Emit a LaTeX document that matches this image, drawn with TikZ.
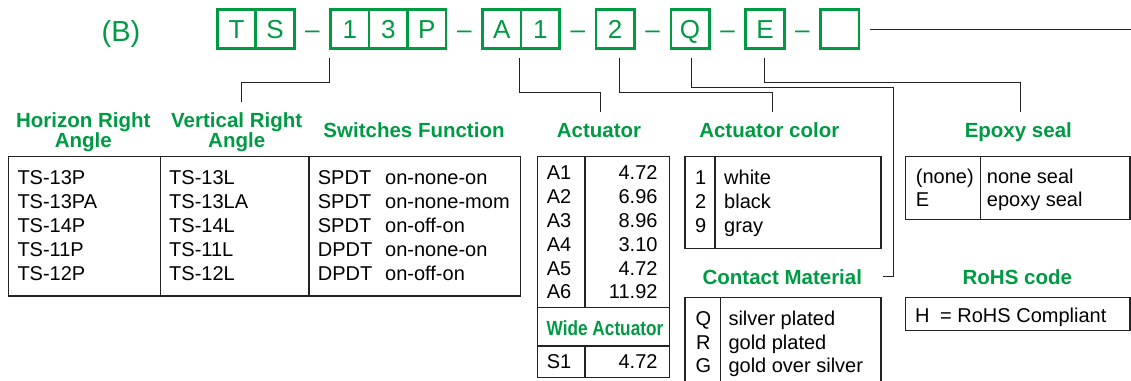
\documentclass[tikz,border=0pt]{standalone}
\usepackage{fontspec}
\usepackage{graphicx}
\setmainfont{Liberation Sans}
\usetikzlibrary{positioning}
\definecolor{CodeGreen}{RGB}{0, 154, 68}
\definecolor{LineGray}{RGB}{35, 35, 35}

\begin{document}
\begin{tikzpicture}[x=1pt, y=-1pt,
    codebox/.style={draw=CodeGreen, line width=2.6pt, outer sep=0pt, inner sep=0pt,
      minimum width=38.5pt, minimum height=39.4pt, text=CodeGreen,
      font=\fontsize{26}{26}\selectfont, text height=18.6pt, text depth=0pt},
    hyph/.style={text=CodeGreen, font=\fontsize{26}{26}\selectfont, inner sep=0pt,
      text height=18.6pt, text depth=0pt},
    head/.style={text=CodeGreen, font=\fontsize{20.5}{20}\selectfont\bfseries, inner sep=0pt,
      text height=14.7pt, text depth=0pt},
    headtwo/.style={text=CodeGreen, font=\fontsize{20.5}{20}\selectfont\bfseries, inner sep=0pt,
      align=center},
    cell/.style={font=\fontsize{20}{24}\selectfont, inner sep=0pt, text height=14.3pt, text depth=0pt},
    frame/.style={draw=LineGray, line width=1.1pt},
    lead/.style={draw=LineGray, line width=0.9pt}]

\useasboundingbox (0,0) rectangle (1131,380);

\node[text=CodeGreen, font=\fontsize{29}{29}\selectfont, inner sep=0pt, text height=20.8pt, text depth=0pt] (partB) at (121,31) {(B)};

\node[codebox] (bT) at (236.5,29) {T};
\node[codebox, right=0pt of bT] (bS) {S};
\node[codebox, right=36.4pt of bS] (b1) {1};
\node[codebox, right=0pt of b1] (b3) {3};
\node[codebox, right=0pt of b3] (bP) {P};
\node[codebox, right=36.4pt of bP] (bA) {A};
\node[codebox, right=0pt of bA] (bA1) {1};
\node[codebox, right=36.4pt of bA1] (b2) {2};
\node[codebox, right=36.4pt of b2] (bQ) {Q};
\node[codebox, right=36.4pt of bQ] (bE) {E};
\node[codebox, right=36.4pt of bE] (bX) {};

\foreach \a/\b [count=\k] in {bS/b1, bP/bA, bA1/b2, b2/bQ, bQ/bE, bE/bX}
  \path (\a.east) -- (\b.west) node[midway, hyph] (hy\k) {–};

\draw[lead] ([xshift=11pt]bX.east) -- ++(262,0);

\coordinate (endH) at (241.7,101.7);
\coordinate (endAct) at (600.7,112.3);
\coordinate (endCol) at (772.7,112.3);
\coordinate (bendMat) at (893.3,276);
\coordinate (endMat) at (883.3,276);
\coordinate (endEpx) at (1020.7,112.3);

\draw[lead] ([xshift=-1.7pt, yshift=-9.3pt]b1.south west) -- ++(0,24.3) -| (endH);
\draw[lead] ([xshift=-2pt, yshift=-9.3pt]bA.south east) -- ++(0,34.7) -| (endAct);
\draw[lead] ([xshift=4pt, yshift=-9.3pt]b2.south) -- ++(0,34.7) -| (endCol);
\draw[lead] ([xshift=1pt, yshift=-9.3pt]bQ.south) -- ++(0,29.3) -| (bendMat) -- (endMat);
\draw[lead] ([xshift=-1pt, yshift=-9.3pt]bE.south) -- ++(0,24.3) -| (endEpx);

\node[headtwo] (hHor) at (83.3,132.7) {Horizon Right\\Angle};
\node[headtwo] (hVer) at (236.7,132.7) {Vertical Right\\Angle};
\node[head] (hFun) at (414,130) {Switches Function};
\node[head] (hAct) at (599,130) {Actuator};
\node[head] (hCol) at (769.3,130) {Actuator color};
\node[head] (hEpx) at (1018.3,130) {Epoxy seal};
\node[head] (hMat) at (782.3,276.7) {Contact Material};
\node[head] (hRoh) at (1017.3,276.7) {RoHS code};

\draw[frame] (8.3,156.7) rectangle (520.7,296);
\draw[frame] (160.3,156.7) -- (160.3,296);
\draw[frame] (309,156.7) -- (309,296);
\foreach \hp/\vl/\sw/\fn [count=\i from 0] in {TS-13P/TS-13L/SPDT/on-none-on,
    TS-13PA/TS-13LA/SPDT/on-none-mom, TS-14P/TS-14L/SPDT/on-off-on,
    TS-11P/TS-11L/DPDT/on-none-on, TS-12P/TS-12L/DPDT/on-off-on} {
  \node[cell, anchor=west] (hp\i) at (17.3,{177.3+24*\i}) {\hp};
  \node[cell, anchor=west] (vl\i) at (169,{177.3+24*\i}) {\vl};
  \node[cell, anchor=west] (sw\i) at (317.7,{177.3+24*\i}) {\sw};
  \node[cell, anchor=west] (fn\i) at (385,{177.3+24*\i}) {\fn};
}

\draw[frame] (537.3,156.7) rectangle (669.3,377.7);
\draw[frame] (537.3,307.3) -- (669.3,307.3);
\draw[frame] (537.3,346) -- (669.3,346);
\draw[frame] (585,156.7) -- (585,307.3);
\draw[frame] (585,346) -- (585,377.7);
\foreach \ac/\len [count=\i from 0] in {A1/4.72, A2/6.96, A3/8.96, A4/3.10, A5/4.72, A6/11.92} {
  \node[cell, anchor=west] (ac\i) at (546.7,{172.7+23.8*\i}) {\ac};
  \node[cell, anchor=east] (len\i) at (657.7,{172.7+23.8*\i}) {\len};
}
\node[head] (hWide) at (605,328.3) {\scalebox{0.84}[1]{Wide Actuator}};
\node[cell, anchor=west] (acS) at (546.7,361.7) {S1};
\node[cell, anchor=east] (lenS) at (657.7,361.7) {4.72};

\draw[frame] (685,156.7) rectangle (881,248.3);
\draw[frame] (715,156.7) -- (715,248.3);
\foreach \cd/\cn [count=\i from 0] in {1/white, 2/black, 9/gray} {
  \node[cell] (cd\i) at (700.7,{177.3+24*\i}) {\cd};
  \node[cell, anchor=west] (cn\i) at (724,{177.3+24*\i}) {\cn};
}

\draw[frame] (685,297.7) rectangle (881,392);
\draw[frame] (720.7,297.7) -- (720.7,392);
\foreach \md/\mn [count=\i from 0] in {Q/silver plated, R/gold plated, G/gold over silver} {
  \node[cell] (md\i) at (703.3,{318.3+23.7*\i}) {\md};
  \node[cell, anchor=west] (mn\i) at (728.3,{318.3+23.7*\i}) {\mn};
}

\draw[frame] (905.7,156.7) rectangle (1130,219.3);
\draw[frame] (980.7,156.7) -- (980.7,219.3);
\node[cell, anchor=west] (ed0) at (915.7,176) {(none)};
\node[cell, anchor=west] (en0) at (986.7,176) {none seal};
\node[cell, anchor=west] (ed1) at (915.7,199) {E};
\node[cell, anchor=west] (en1) at (986.7,199) {epoxy seal};

\draw[frame] (905.7,297.3) rectangle (1130,330.7);
\node[cell, anchor=west] (rohs) at (915,315) {H\hspace{0.25em} = RoHS Compliant};
\end{tikzpicture}
\end{document}
